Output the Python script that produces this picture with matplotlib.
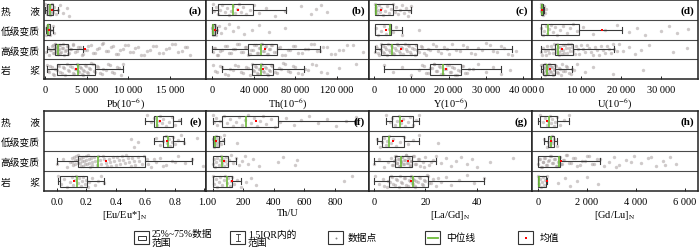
import matplotlib
matplotlib.use("Agg")
import matplotlib.pyplot as plt
from matplotlib.patches import Rectangle
from matplotlib.lines import Line2D

plt.rcParams['font.family'] = ['Liberation Serif', 'Noto Sans CJK SC', 'DejaVu Sans']
plt.rcParams['mathtext.fontset'] = 'stix'

categories = ["热　　液", "低级变质", "高级变质", "岩　　浆"]

# ---- summary statistics per panel: (whislo, q1, med, q3, whishi, mean) per category ----
pb_stats = [(0, 250, 600, 1000, 1600, 800), (100, 200, 400, 600, 900, 420),
            (200, 1200, 1600, 2800, 4600, 4750), (200, 1400, 4000, 6000, 9400, 3700)]
th_stats = [(300, 5800, 20000, 39000, 71000, 25000), (0, 300, 1000, 3000, 5000, 3000),
            (0, 34600, 47000, 62500, 104000, 51000), (9500, 38500, 47000, 58600, 88000, 49000)]
y_stats = [(300, 300, 500, 5100, 9900, 2000), (300, 300, 4200, 4500, 7600, 3200),
           (300, 1800, 4900, 11500, 37000, 7300), (2700, 15100, 18500, 23400, 34200, 19200)]
u_stats = [(30, 100, 200, 400, 800, 250), (0, 0, 1800, 9500, 20300, 15300),
           (0, 3500, 4300, 8000, 18300, 5200), (0, 500, 1400, 3500, 7800, 2250)]
eu_stats = [(0.60, 0.66, 0.68, 0.79, 0.84, 0.70), (0.66, 0.72, 0.757, 0.79, 0.86, 0.75),
            (0.0, 0.144, 0.28, 0.595, 0.92, 0.33), (0.005, 0.02, 0.137, 0.205, 0.32, 0.115)]
thu_stats = [(0, 62, 219, 428, 940, 284), (2, 4, 15, 37, 75, 19),
             (0, 0, 62, 101, 150, 75), (0, 0, 90, 127, 183, 123)]
lagd_stats = [(4.8, 6.9, 10.2, 15.0, 17.6, 10.7), (1.3, 3.0, 5.6, 11.8, 17.4, 7.2),
              (0, 8.2, 10.5, 14.8, 24.2, 13.1), (0, 5.6, 15.0, 20.9, 42.9, 14.4)]
gdlu_stats = [(0, 100, 460, 760, 1270, 370), (245, 420, 530, 650, 760, 550),
              (0, 0, 860, 900, 2530, 940), (0, 0, 30, 330, 370, 370)]

# ---- individual data points per panel / category ----
pb_pts = [
    [50, 120, 200, 260, 300, 350, 420, 480, 550, 600, 650, 700, 780, 850, 950, 1100, 1300, 1500, 1800, 2200, 2600, 2900],
    [80, 150, 200, 250, 300, 350, 400, 450, 500, 600, 700, 900, 1100],
    [150, 300, 450, 600, 800, 1000, 1100, 1200, 1300, 1400, 1500, 1600, 1700, 1800, 2000, 2200, 2400, 2600, 2800, 3000,
     3300, 3600, 4000, 4400, 4800, 5200, 5700, 6200, 6800, 7300, 7900, 8500, 9000, 9600, 10200, 10800, 11500, 12200,
     13000, 13700, 14500, 15200, 16000, 16800, 17400,
     700, 900, 1050, 1150, 1250, 1350, 1450, 1550, 1650, 1750, 1900, 2100, 2300, 2500, 2700, 2900, 3100, 3400, 3800,
     4200, 4600, 5000, 5500, 6000, 6500, 7000, 7600, 8200, 8800, 9300, 9900, 10500, 11200, 11900, 12600, 13300, 14100,
     14900, 15600, 16400, 17000],
    [200, 500, 800, 1100, 1400, 1700, 2000, 2300, 2600, 2900, 3200, 3500, 3700, 3900, 4100, 4300, 4500, 4700, 4900,
     5100, 5400, 5700, 6000, 6400, 6800, 7300, 7800, 8300, 8900, 9400,
     300, 650, 950, 1250, 1550, 1850, 2150, 2450, 2750, 3050, 3350, 3600, 3800, 4000, 4200, 4400, 4600, 4800, 5000,
     5250, 5550, 5850, 6200, 6600, 7000, 7500, 8000, 8600, 9100]]
th_pts = [
    [500, 2000, 4000, 6000, 8000, 10000, 12000, 14000, 16000, 18000, 20000, 22000, 24000, 26000, 28000, 30000, 33000,
     36000, 40000, 45000, 52000, 60000, 70000, 85000, 95000, 100000, 105000, 110000],
    [300, 600, 900, 1200, 1500, 2000, 2500, 3000, 3500, 4000, 5000, 7000, 9000, 12000, 16000, 20000, 25000, 31000,
     38000, 45000, 55000, 70000],
    [500, 3000, 6000, 10000, 14000, 18000, 22000, 26000, 30000, 33000, 36000, 39000, 42000, 44000, 46000, 48000, 50000,
     52000, 54000, 56000, 58000, 61000, 65000, 70000, 75000, 80000, 86000, 92000, 98000, 104000, 110000, 118000,
     126000, 135000, 145000,
     1500, 4500, 8000, 12000, 16000, 20000, 24000, 28000, 31500, 34500, 37500, 40500, 43000, 45000, 47000, 49000,
     51000, 53000, 55000, 57000, 59500, 63000, 67500, 72500, 77500, 83000, 89000, 95000, 101000, 107000, 114000,
     122000, 130000],
    [1000, 5000, 10000, 15000, 20000, 25000, 30000, 35000, 38000, 40000, 42000, 44000, 46000, 48000, 50000, 52000,
     54000, 56000, 58000, 62000, 66000, 70000, 75000, 80000, 86000, 92000, 100000, 110000, 122000, 138000,
     3000, 7500, 12500, 17500, 22500, 27500, 32500, 36500, 39000, 41000, 43000, 45000, 47000, 49000, 51000, 53000,
     55000, 57000, 60000, 64000, 68000, 72500, 77500, 83000, 89000, 96000, 105000]]
y_pts = [
    [200, 400, 600, 800, 1000, 1300, 1600, 2000, 2500, 3000, 3500, 4000, 4500, 5000, 5500, 6000, 6500, 7000, 7500,
     8000, 8500, 9000, 9500, 9900],
    [400, 1000, 1800, 2600, 3300, 4000, 4400, 5000, 6000, 7500, 12000],
    [300, 800, 1300, 1800, 2300, 2800, 3300, 3800, 4300, 4800, 5300, 5800, 6400, 7000, 7600, 8200, 8800, 9400, 10000,
     10600, 11200, 12000, 13000, 14000, 15000, 16500, 18000, 19500, 21000, 23000, 25000, 27000, 29000, 31000, 33000,
     35000, 37000, 38000,
     500, 1000, 1500, 2000, 2500, 3000, 3500, 4000, 4500, 5000, 5500, 6100, 6700, 7300, 7900, 8500, 9100, 9700, 10300,
     10900, 11600, 12500, 13500, 14500, 15700, 17200, 18700, 20200, 22000, 24000, 26000, 28000, 30000, 32000, 34000,
     36000],
    [2700, 5000, 7500, 10000, 12000, 13500, 14500, 15500, 16200, 17000, 17800, 18500, 19200, 20000, 20700, 21400,
     22200, 23000, 24000, 25000, 26500, 28000, 30000, 32000, 34000, 36500,
     13000, 14000, 15000, 16000, 16600, 17400, 18100, 18800, 19500, 20300, 21000, 21800, 22600, 23500, 24500, 25500]]
u_pts = [
    [30, 60, 100, 150, 200, 250, 300, 350, 400, 500, 700, 900, 1200],
    [100, 400, 800, 1200, 1600, 2000, 2500, 3000, 3500, 4000, 4800, 5600, 6400, 7200, 8000, 9000, 10500, 13000, 16000,
     19000, 22000, 24000, 26000, 30000, 32000, 34000, 36700],
    [100, 600, 1200, 1800, 2400, 3000, 3500, 4000, 4400, 4800, 5200, 5600, 6000, 6500, 7000, 7500, 8000, 8800, 9600,
     10500, 11500, 12500, 13500, 14500, 15500, 16500, 17500, 18300, 19500, 20500, 22000, 23500, 25000, 27000, 33000,
     36500,
     300, 900, 1500, 2100, 2700, 3200, 3700, 4200, 4600, 5000, 5400, 5800, 6200, 6700, 7200, 7700, 8400, 9200, 10000,
     11000, 12000, 13000, 14000, 15000, 16000, 17000, 18000, 19000],
    [100, 400, 700, 1000, 1200, 1400, 1600, 1800, 2000, 2300, 2600, 2900, 3200, 3500, 4000, 4500, 5000, 5600, 6300,
     7000, 7800, 9000, 11000, 13000, 18000, 25500,
     250, 550, 850, 1100, 1300, 1500, 1700, 1900, 2150, 2450, 2750, 3050, 3350, 3700, 4200, 4700, 5300, 6000, 6600,
     7400, 8300]]
eu_pts = [
    [0.61, 0.64, 0.66, 0.68, 0.69, 0.70, 0.71, 0.72, 0.74, 0.76, 0.78, 0.80, 0.83],
    [0.50, 0.52, 0.55, 0.67, 0.70, 0.72, 0.74, 0.75, 0.76, 0.77, 0.78, 0.79, 0.80, 0.82, 0.84, 0.86, 0.95],
    [0.0, 0.04, 0.07, 0.09, 0.10, 0.11, 0.12, 0.13, 0.14, 0.15, 0.16, 0.17, 0.18, 0.19, 0.20, 0.21, 0.22, 0.23, 0.24,
     0.26, 0.28, 0.30, 0.32, 0.34, 0.36, 0.38, 0.40, 0.42, 0.44, 0.46, 0.48, 0.50, 0.52, 0.55, 0.58, 0.61, 0.64, 0.67,
     0.70, 0.74, 0.78, 0.82, 0.87, 0.92, 0.99,
     0.105, 0.115, 0.125, 0.135, 0.145, 0.155, 0.165, 0.175, 0.185, 0.195, 0.205, 0.215, 0.225, 0.235, 0.25, 0.27,
     0.29, 0.31, 0.33, 0.35, 0.37, 0.39, 0.41, 0.43, 0.45, 0.47, 0.49, 0.51, 0.53, 0.56, 0.59, 0.62, 0.66, 0.72, 0.80],
    [0.01, 0.03, 0.05, 0.07, 0.09, 0.10, 0.11, 0.12, 0.13, 0.14, 0.15, 0.16, 0.17, 0.18, 0.19, 0.20, 0.21, 0.22, 0.24,
     0.26, 0.28, 0.30, 0.32]]
thu_pts = [
    [0, 10, 20, 30, 50, 70, 90, 110, 130, 150, 170, 190, 210, 230, 250, 270, 290, 310, 330, 350, 380, 410, 440, 480,
     530, 580, 630, 690, 750, 810, 870, 940],
    [2, 5, 8, 10, 13, 16, 20, 24, 28, 33, 38, 45, 55, 65, 75, 155],
    [2, 8, 15, 22, 30, 38, 45, 52, 58, 64, 70, 78, 86, 95, 105, 118, 132, 150, 170, 190, 210, 230, 260, 300, 430, 460,
     540, 553],
    [2, 10, 20, 30, 40, 50, 60, 70, 80, 90, 100, 110, 120, 127, 140, 160, 183, 220, 250, 280, 860, 914]]
lagd_pts = [
    [4.8, 6, 7, 8, 9, 9.8, 10.5, 11.2, 12, 13, 14, 15, 16.5, 17.6],
    [1.3, 2.2, 3, 3.8, 4.5, 5.2, 5.8, 6.5, 7.5, 8.5, 10, 11.5, 13, 15, 17.4, 24.8],
    [0, 2, 4, 5.5, 6.5, 7.5, 8, 8.5, 9, 9.5, 10, 10.5, 11, 11.5, 12, 12.5, 13, 13.5, 14, 14.5, 15, 16, 17, 18, 19, 20,
     21.5, 23, 24.2, 26, 28, 30, 32, 34, 36, 38, 40, 45, 54,
     7, 7.8, 8.3, 8.8, 9.3, 9.8, 10.3, 10.8, 11.3, 11.8, 12.3, 12.8, 13.3, 13.8, 14.3, 15.5, 16.5, 17.5, 19.5, 22],
    [0.5, 2, 3.5, 5, 6, 7, 8, 9, 10, 11, 12, 13, 14, 14.5, 15, 15.5, 16, 17, 18, 19, 20, 21, 22, 23, 24, 26, 28, 30,
     33, 36, 39, 42.9,
     4, 5.5, 6.5, 7.5, 8.5, 9.5, 10.5, 11.5, 12.5, 13.5, 14.2, 14.8, 15.3, 15.8, 16.5, 17.5, 18.5, 19.5, 20.5, 21.5, 25]]
gdlu_pts = [
    [100, 200, 280, 350, 420, 470, 520, 580, 640, 700, 760, 900, 1050, 1270],
    [245, 350, 420, 470, 500, 530, 560, 600, 650, 760],
    [20, 80, 150, 220, 300, 380, 450, 520, 600, 680, 760, 840, 900, 980, 1080, 1200, 1350, 1500, 1700, 1900, 2100,
     2300, 2530, 2700, 2900, 3100, 3300, 3600, 3900, 4200, 4500, 4800, 5100, 5400, 5630,
     50, 120, 190, 260, 340, 420, 490, 560, 640, 720, 800, 870, 940, 1020, 1140, 1280, 1420, 1600, 1800, 2000, 2200,
     2420, 3200, 3800, 4600, 5200],
    [10, 40, 80, 120, 160, 200, 250, 300, 370, 800, 1100, 1300, 1600, 2000, 2450]]

# ---- axis labels / ticks ----
xlabels = ["Pb(10$^{-6}$)", "Th(10$^{-6}$)", "Y(10$^{-6}$)", "U(10$^{-6}$)",
           "[Eu/Eu*]$_{\\mathrm{N}}$", "Th/U", "[La/Gd]$_{\\mathrm{N}}$", "[Gd/Lu]$_{\\mathrm{N}}$"]
panel_tags = ["(a)", "(b)", "(c)", "(d)", "(e)", "(f)", "(g)", "(h)"]
xticks = [[0, 5000, 10000, 15000], [0, 40000, 80000, 120000], [0, 10000, 20000, 30000, 40000],
          [0, 10000, 20000, 30000], [0.0, 0.2, 0.4, 0.6, 0.8, 1.0], [0, 200, 400, 600, 800], [0, 20, 40],
          [0, 2000, 4000, 6000]]
xticklabels = [["0", "5 000", "10 000", "15 000"], ["0", "40 000", "80 000", "120 000"],
               ["0", "10 000", "20 000", "30 000", "40 000"], ["0", "10 000", "20 000", "30 000"],
               ["0.0", "0.2", "0.4", "0.6", "0.8", "1.0"], ["0", "200", "400", "600", "800"], ["0", "20", "40"],
               ["0", "2 000", "4 000", "6 000"]]
xlims = [(-120, 19300), (-5800, 150700), (-1350, 42400), (-2250, 39250),
         (-0.088, 1.012), (-45, 1023), (-2, 61.5), (-245, 6530)]

all_stats = [pb_stats, th_stats, y_stats, u_stats, eu_stats, thu_stats, lagd_stats, gdlu_stats]
all_pts = [pb_pts, th_pts, y_pts, u_pts, eu_pts, thu_pts, lagd_pts, gdlu_pts]

W, H = 700, 253
fig = plt.figure(figsize=(7.0, 2.53), dpi=100)
col_px = [(44, 206), (206, 369), (369, 532), (532, 698)]
row_px = [(1, 80), (112, 192)]

GREEN = '#6dbb3a'
PT = '#a8a0a0'

for k in range(8):
    r, c = divmod(k, 4)
    x0, x1 = col_px[c]
    y0, y1 = row_px[r]
    ax = fig.add_axes([x0 / W, 1 - y1 / H, (x1 - x0) / W, (y1 - y0) / H])
    stats = all_stats[k]
    pts = all_pts[k]
    for i, vals in enumerate(pts):
        offs = [(((j * 0.6180339887 + i * 0.37) % 1.0) - 0.5) * 0.6 for j in range(len(vals))]
        ax.scatter(vals, [i + o for o in offs], s=6, color=PT, alpha=0.55, linewidths=0, zorder=1)
    bstats = []
    for (lo, q1, med, q3, hi, mean) in stats:
        bstats.append(dict(whislo=lo, q1=q1, med=med, q3=q3, whishi=hi, mean=mean, fliers=[]))
    ax.bxp(bstats, positions=range(4), orientation='horizontal', widths=0.55, showmeans=True,
           patch_artist=True, showfliers=False,
           boxprops=dict(facecolor='none', edgecolor='#3a3a3a', linewidth=0.8),
           whiskerprops=dict(color='#3a3a3a', linewidth=0.8),
           capprops=dict(color='#3a3a3a', linewidth=0.8),
           capwidths=0.3,
           medianprops=dict(color=GREEN, linewidth=1.2),
           meanprops=dict(marker='s', markerfacecolor='red', markeredgecolor='none',
                          markeredgewidth=0, markersize=1.8),
           zorder=3)
    for yy in (0.5, 1.5, 2.5):
        ax.axhline(yy, color='#4a4a4a', linewidth=0.8, zorder=0)
    ax.set_ylim(3.5, -0.5)
    ax.set_xlim(*xlims[k])
    ax.set_xticks(xticks[k])
    ax.set_xticklabels(xticklabels[k], fontsize=7.5)
    ax.tick_params(axis='x', direction='in', length=2.5, width=0.6, pad=4)
    ax.set_yticks(range(4))
    if c == 0:
        ax.set_yticklabels(categories, fontsize=7, family=['Noto Sans CJK SC', 'DejaVu Sans'])
        ax.tick_params(axis='y', length=0, pad=3)
    else:
        ax.set_yticklabels([])
        ax.tick_params(axis='y', length=0)
    ax.set_xlabel(xlabels[k], fontsize=7.5, labelpad=2)
    for s in ax.spines.values():
        s.set_linewidth(1.1)
        s.set_color('#222222')
    ax.text(0.975, 0.875, panel_tags[k], transform=ax.transAxes, ha='right', va='center',
            fontsize=8, fontweight='bold')

# ---- legend (drawn on an overlay in pixel coordinates) ----
lg = fig.add_axes([0, 0, 1, 1])
lg.set_xlim(0, W)
lg.set_ylim(H, 0)
lg.axis('off')
icon_x = [134, 230, 328, 425, 518]
iy0, iy1 = 232, 245
for xi in icon_x:
    lg.add_patch(Rectangle((xi, iy0), 15, iy1 - iy0, facecolor='white', edgecolor='#333333', linewidth=0.8))
# box icon
lg.add_patch(Rectangle((icon_x[0] + 3.5, 236.5), 8, 4, facecolor='none', edgecolor='#333333', linewidth=0.7))
# whisker icon
cx = icon_x[1] + 7.5
lg.add_line(Line2D([cx, cx], [235, 242], color='#333333', linewidth=0.6))
lg.add_line(Line2D([cx - 2, cx + 2], [235, 235], color='#333333', linewidth=0.6))
lg.add_line(Line2D([cx - 2, cx + 2], [242, 242], color='#333333', linewidth=0.6))
# point icon
lg.plot([icon_x[2] + 7.5], [238.5], marker='o', markersize=1.4, markeredgewidth=0, color='#888888')
# median icon
lg.add_line(Line2D([icon_x[3] + 2.5, icon_x[3] + 12.5], [238.5, 238.5], color=GREEN, linewidth=1.3))
# mean icon
lg.plot([icon_x[4] + 7.5], [238.5], marker='s', markersize=1.8, markeredgewidth=0, color='red')

lfont = dict(fontsize=7, family=['Liberation Serif', 'Noto Sans CJK SC'], va='center', ha='left')
lg.text(152, 238.5, "25%~75%数据\n范围", linespacing=0.95, **lfont)
lg.text(248, 238.5, "1.5IQR内的\n范围", linespacing=0.95, **lfont)
lg.text(348, 238.5, "数据点", **lfont)
lg.text(446, 238.5, "中位线", **lfont)
lg.text(540, 238.5, "均值", **lfont)

fig.savefig("out.png", dpi=100)
